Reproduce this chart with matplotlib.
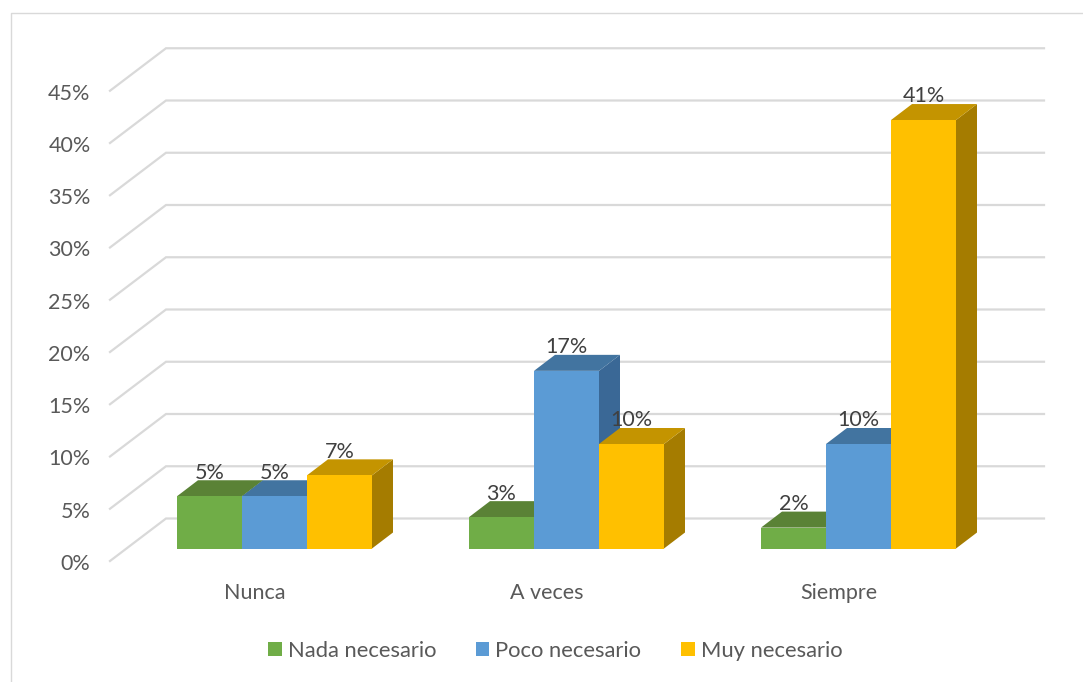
import matplotlib
matplotlib.use("Agg")
import matplotlib.pyplot as plt
from matplotlib.patches import Polygon, Patch
from matplotlib.lines import Line2D

plt.rcParams['font.family'] = ['Lato', 'DejaVu Sans']

categories = ["Nunca", "A veces", "Siempre"]
series_names = ["Nada necesario", "Poco necesario", "Muy necesario"]
nada = [5, 3, 2]
poco = [5, 17, 10]
muy = [7, 10, 41]
ticks = [0, 5, 10, 15, 20, 25, 30, 35, 40, 45]

front_colors = ["#70AD47", "#5B9BD5", "#FFC000"]
top_colors = ["#5A8236", "#4274A0", "#C49400"]
side_colors = ["#4E7A30", "#3A6896", "#A57C00"]
text_color = "#595959"
label_color = "#404040"
grid_color = "#D9D9D9"

W, H = 1083, 682
fig = plt.figure(figsize=(W / 100, H / 100), dpi=100)
ax = fig.add_axes([0, 0, 1, 1])

# scales: 292 px per category, 10.45 px per percent point; baseline y=548.5, first centre x=274.5
PX_X = 292.0
PX_Y = 10.45
BASE = 548.5
ax.set_xlim(-274.5 / PX_X, (W - 274.5) / PX_X)
ax.set_ylim((BASE - H) / PX_Y, BASE / PX_Y)
ax.axis("off")

def dx(px):
    return px / PX_X

def dy(px):
    return px / PX_Y

bar_w = dx(65)
depth_x = dx(21)
depth_y = dy(16)

# walls
left = dx(110 - 274.5)
wall = dx(166 - 274.5)
right = dx(1044 - 274.5)
for t in ticks:
    front_y = t + dy(-12.5)
    back_y = t + dy(30)
    ax.plot([left, wall, right], [front_y, back_y, back_y], color=grid_color,
            lw=1.6, solid_joinstyle="miter", zorder=1)
    ax.annotate(f"{t}%", (left, front_y), xytext=(-14, -2), textcoords="offset points",
                ha="right", va="center", fontsize=15.5, color=text_color)

# bars
z = 2
for c, cat in enumerate(categories):
    ax.annotate(cat, (c, 0), xytext=(-14, -32), textcoords="offset points",
                ha="center", va="center", fontsize=15.5, color=text_color)
    for s, vals in enumerate([nada, poco, muy]):
        v = vals[c]
        x0 = c + (s - 1.5) * bar_w
        x1 = x0 + bar_w
        ax.add_patch(Polygon([(x1, 0), (x1 + depth_x, depth_y), (x1 + depth_x, v + depth_y), (x1, v)],
                             facecolor=side_colors[s], edgecolor="none", zorder=z))
        ax.add_patch(Polygon([(x0, v), (x0 + depth_x, v + depth_y), (x1 + depth_x, v + depth_y), (x1, v)],
                             facecolor=top_colors[s], edgecolor="none", zorder=z + 0.1))
        ax.add_patch(Polygon([(x0, 0), (x1, 0), (x1, v), (x0, v)],
                             facecolor=front_colors[s], edgecolor="none", zorder=z + 0.2))
        z += 1

for c in range(len(categories)):
    for s, vals in enumerate([nada, poco, muy]):
        x = c + (s - 1) * bar_w
        ax.annotate(f"{vals[c]}%", (x, vals[c]), xytext=(0, 17), textcoords="offset points",
                    ha="center", va="center", fontsize=15.5, color=label_color, zorder=50)

handles = [Patch(facecolor=col, edgecolor="none", label=n) for col, n in zip(front_colors, series_names)]
ax.legend(handles=handles, ncol=3, loc="center", bbox_to_anchor=(555 / W, 1 - 651 / H),
          bbox_transform=fig.transFigure, frameon=False, fontsize=15.8,
          handlelength=0.63, handleheight=0.63, handletextpad=0.27, columnspacing=1.8,
          labelcolor=text_color, borderpad=0, borderaxespad=0)

# chart frame
fig.add_artist(Line2D([10.5 / W, 10.5 / W, 1], [0, 1 - 12.5 / H, 1 - 12.5 / H],
                      transform=fig.transFigure, color=grid_color, lw=1.0))

fig.savefig("out.png", dpi=100)
